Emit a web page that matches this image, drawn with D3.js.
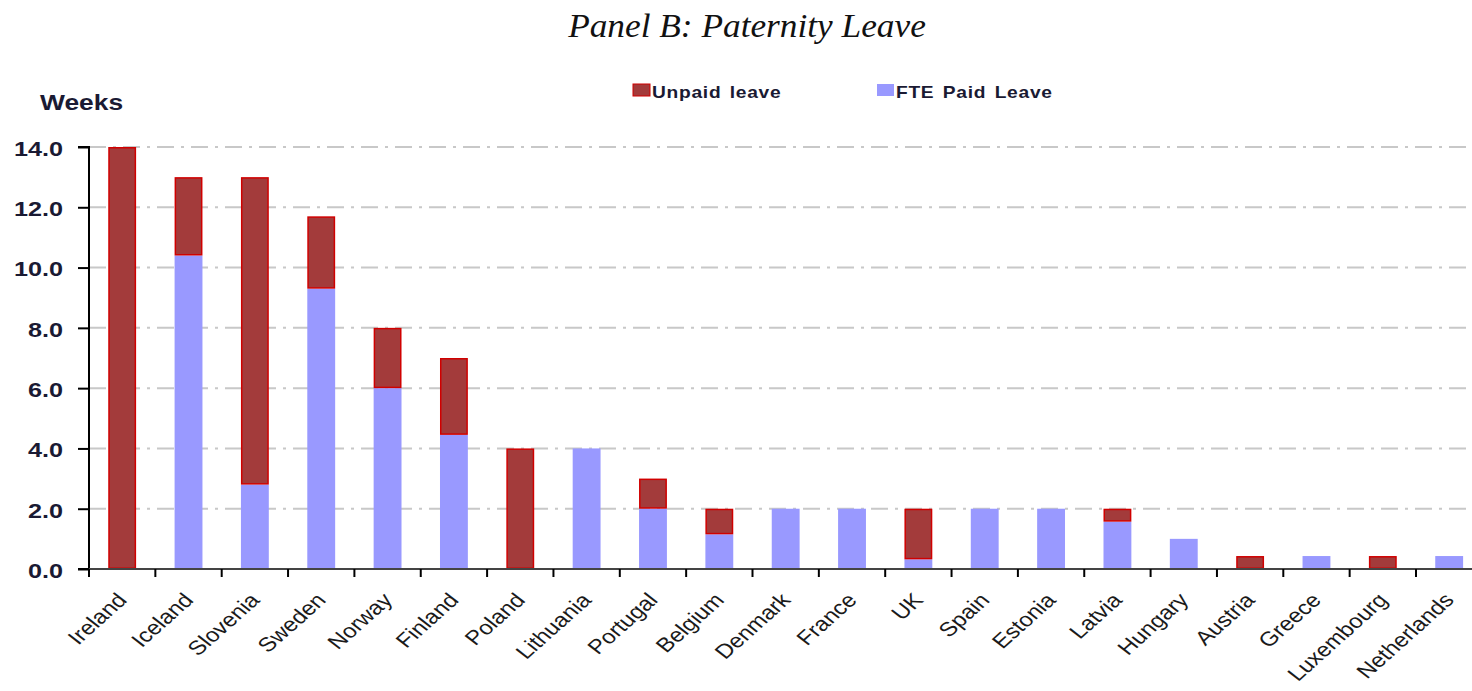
<!DOCTYPE html>
<html><head><meta charset="utf-8">
<script src="https://cdn.jsdelivr.net/npm/d3@7"></script>
<style>html,body{margin:0;padding:0;background:#fff;overflow:hidden}</style>
</head><body>
<svg id="chart" width="1472" height="691"></svg>
<script>
const categories = ["Ireland","Iceland","Slovenia","Sweden","Norway","Finland","Poland","Lithuania","Portugal","Belgium","Denmark","France","UK","Spain","Estonia","Latvia","Hungary","Austria","Greece","Luxembourg","Netherlands"];
const paidLeave   = [0, 10.4, 2.8, 9.3, 6.0, 4.45, 0, 4.0, 2.0, 1.15, 2.0, 2.0, 0.32, 2.0, 2.0, 1.57, 1.0, 0, 0.43, 0, 0.43];
const unpaidLeave = [14.0, 2.6, 10.2, 2.4, 2.0, 2.55, 4.0, 0, 1.0, 0.85, 0, 0, 1.68, 0, 0, 0.43, 0, 0.43, 0, 0.43, 0];
const yTicks = [0, 2, 4, 6, 8, 10, 12, 14];
const seriesNames = ["Unpaid leave", "FTE Paid Leave"];
const colors = {unpaid: "#a33b3b", unpaidStroke: "#d00000", paid: "#9999ff"};
const SX = 1.2; // horizontal text stretch of the original picture

const svg = d3.select("#chart");
const x0 = 89, x1 = 89 + 66.35 * categories.length;
const y = d3.scaleLinear().domain([0, 14]).range([569, 147]);
const x = d3.scaleBand().domain(categories).range([x0, x1]).paddingInner(0.58).paddingOuter(0.29);
const xb = d3.scaleBand().domain(categories).range([x0, x1]);
const sans = "'Liberation Sans',Arial,sans-serif";

// title
svg.append("text").attr("transform", "translate(747,37) scale(1.07,1)").attr("text-anchor", "middle")
  .style("font-family", "'Liberation Serif','Times New Roman',serif").style("font-style", "italic")
  .style("font-size", "33px").attr("fill", "#111").text("Panel B: Paternity Leave");

// gridlines
svg.append("g").selectAll("line").data(yTicks.filter(d => d > 0)).join("line")
  .attr("x1", x0).attr("x2", 1472).attr("y1", d => y(d)).attr("y2", d => y(d))
  .attr("stroke", "#c8c8c8").attr("stroke-width", 2).attr("stroke-dasharray", "17,7,3,7");

// bars
const data = categories.map((c, i) => ({c, paid: paidLeave[i], unpaid: unpaidLeave[i]}));
const stack = d3.stack().keys(["paid", "unpaid"])(data);
const gBars = svg.append("g");
gBars.selectAll("rect.paid").data(stack[0]).join("rect").attr("class", "paid")
  .attr("x", d => x(d.data.c)).attr("width", x.bandwidth())
  .attr("y", d => y(d[1])).attr("height", d => y(d[0]) - y(d[1]))
  .attr("fill", colors.paid);
gBars.selectAll("rect.unpaid").data(stack[1].filter(d => d[1] - d[0] > 0)).join("rect").attr("class", "unpaid")
  .attr("x", d => x(d.data.c) + 0.75).attr("width", x.bandwidth() - 1.5)
  .attr("y", d => y(d[1]) + 0.75).attr("height", d => Math.max(0, y(d[0]) - y(d[1]) - 1.5))
  .attr("fill", colors.unpaid).attr("stroke", colors.unpaidStroke).attr("stroke-width", 1.5);

// y axis
const yAxis = d3.axisLeft(y).tickValues(yTicks).tickFormat(d3.format(".1f")).tickSize(11).tickPadding(0);
const gy = svg.append("g").attr("transform", `translate(${x0},0)`).call(yAxis);
gy.select(".domain").attr("stroke", "#000").attr("stroke-width", 2).attr("d", `M-11,${y(14)}H0V${y(0)}H-11`);
gy.selectAll(".tick line").attr("stroke", "#000").attr("stroke-width", 2);
gy.selectAll(".tick text").attr("fill", "#1a1a33").attr("x", -26 / SX).attr("dy", "0.4em")
  .attr("transform", `scale(${SX},1)`)
  .style("font-family", sans).style("font-size", "21px").style("font-weight", "bold");

// x axis
svg.append("line").attr("x1", x0).attr("x2", 1472).attr("y1", y(0)).attr("y2", y(0)).attr("stroke", "#444").attr("stroke-width", 2);
svg.append("g").selectAll("line").data(categories).join("line")
  .attr("x1", d => xb(d)).attr("x2", d => xb(d)).attr("y1", y(0)).attr("y2", y(0) + 8)
  .attr("stroke", "#000").attr("stroke-width", 2);
svg.append("g").selectAll("text").data(categories).join("text")
  .attr("transform", d => `translate(${xb(d) + xb.bandwidth() / 2 + 6},${y(0) + 32}) scale(${SX},1) rotate(-47)`)
  .attr("text-anchor", "end").attr("fill", "#1a1a1a")
  .style("font-family", sans).style("font-size", "20px")
  .text(d => d);

// Weeks label
svg.append("text").attr("transform", `translate(40,110) scale(${SX},1)`).attr("fill", "#1a1a33")
  .style("font-family", sans).style("font-size", "22px").style("font-weight", "bold")
  .text("Weeks");

// legend
const legend = [{name: seriesNames[0], fill: colors.unpaid, stroke: colors.unpaidStroke, x: 633},
                {name: seriesNames[1], fill: colors.paid, stroke: "none", x: 877}];
const lg = svg.append("g").selectAll("g").data(legend).join("g").attr("transform", d => `translate(${d.x},84)`);
lg.append("rect").attr("width", 17).attr("height", 12).attr("fill", d => d.fill).attr("stroke", d => d.stroke).attr("stroke-width", 1);
lg.append("text").attr("transform", `translate(19,14) scale(${SX},1)`).attr("fill", "#1a1a33")
  .style("font-family", sans).style("font-size", "16px").style("font-weight", "bold")
  .style("letter-spacing", "0.6px").style("word-spacing", "2px").text(d => d.name);
</script>
</body></html>
